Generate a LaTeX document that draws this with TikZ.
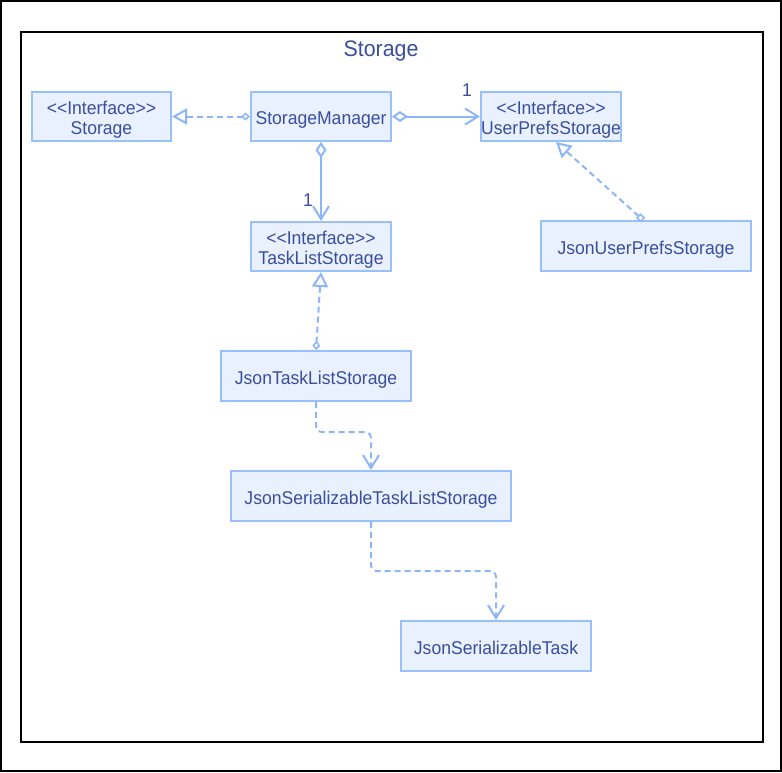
\documentclass[tikz,border=0pt]{standalone}
\usepackage{fontspec}
\setmainfont{Liberation Sans}
\newfontfamily\umlfont{Liberation Sans}[FakeStretch=0.95]
\usetikzlibrary{arrows.meta}
\definecolor{boxline}{HTML}{99C0FA}
\definecolor{boxfill}{HTML}{E9F1FE}
\definecolor{txt}{HTML}{3A4E9E}
\definecolor{edge}{HTML}{8DB6F8}
\newcommand\ustrut{\rule[-4pt]{0pt}{24pt}}
\tikzset{
  cls/.style={draw=boxline, fill=boxfill, line width=2pt, text=txt, align=center,
    inner sep=0pt, minimum height=49pt, font=\umlfont\fontsize{18.5}{20.7}\selectfont},
  conn/.style={draw=edge, line width=2pt},
  dsh/.style={conn, dash pattern=on 6pt off 4pt},
  mult/.style={text=txt, font=\umlfont\fontsize{18.5}{20}\selectfont, inner sep=0pt},
  realtip/.tip={Triangle[open,length=15pt,width=16pt,line width=2pt]},
  smalldia/.tip={Diamond[open,length=9pt,width=8pt,line width=1.5pt]},
  aggdia/.tip={Diamond[open,length=16pt,width=11pt,line width=2pt]},
  smallsq/.tip={Square[open,length=6.5pt,width=6.5pt,line width=1.5pt]},
  openv/.tip={Straight Barb[length=13pt,width=16pt,line width=2pt]},
}
\begin{document}
\begin{tikzpicture}[x=1pt,y=-1pt]
\useasboundingbox (0,0) rectangle (782,772);
\draw[line width=2pt] (1,1) rectangle (781,771);
\draw[line width=2pt] (21,32) rectangle (763,742);
\node[text=txt, font=\umlfont\fontsize{22.5}{24}\selectfont] (title) at (381,51) {Storage};

\node[cls, minimum width=139pt] (st) at (101.5,116.5) {\ustrut<{}<Interface>{}>\\Storage};
\node[cls, minimum width=140pt] (sm) at (321,116.5) {\ustrut StorageManager};
\node[cls, minimum width=140pt] (ups) at (551,116.5) {\ustrut<{}<Interface>{}>\\UserPrefsStorage};
\node[cls, minimum width=140pt] (tls) at (321,246.5) {\ustrut<{}<Interface>{}>\\TaskListStorage};
\node[cls, minimum width=210pt, minimum height=50pt] (jups) at (646,246) {\ustrut JsonUserPrefsStorage};
\node[cls, minimum width=190pt, minimum height=50pt] (jtls) at (316,376) {\ustrut JsonTaskListStorage};
\node[cls, minimum width=280pt, minimum height=50pt] (jstls) at (371,496) {\ustrut JsonSerializableTaskListStorage};
\node[cls, minimum width=190pt, minimum height=50pt] (jst) at (496,646) {\ustrut JsonSerializableTask};

\coordinate (b1) at (371,432);
\coordinate (b2) at (496,571);

% StorageManager realizes Storage
\draw[dsh, smalldia-realtip] (sm.west) -- (st.east);
% StorageManager -> UserPrefsStorage
\draw[conn, aggdia-openv] (sm.east) -- (ups.west);
\node[mult] (m1) at (467,90) {1};
% StorageManager -> TaskListStorage
\draw[conn, aggdia-openv] (sm.south) -- (tls.north);
\node[mult] (m2) at (308,200) {1};
% JsonUserPrefsStorage realizes UserPrefsStorage
\draw[dsh, smallsq-realtip] ([xshift=-3pt]jups.north) -- ([xshift=5pt]ups.south);
% JsonTaskListStorage realizes TaskListStorage
\draw[dsh, smalldia-realtip] (jtls.north) -- (tls.south);
% dependencies
\draw[dsh, rounded corners=6pt, -openv] (jtls.south) |- (b1) -- (jstls.north);
\draw[dsh, rounded corners=6pt, -openv] (jstls.south) |- (b2) -- (jst.north);
\end{tikzpicture}
\end{document}
